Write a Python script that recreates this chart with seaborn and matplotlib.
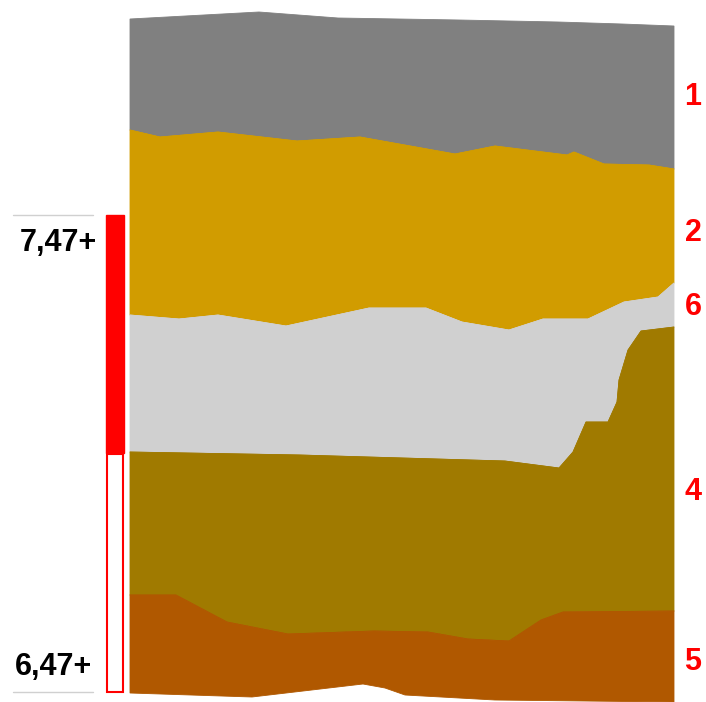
import numpy as np
import pandas as pd
import matplotlib
matplotlib.use("Agg")
import matplotlib.pyplot as plt
import seaborn as sns

sns.set_style("white")
plt.rcParams['font.family'] = ['Liberation Sans', 'DejaVu Sans']

# Layer boundaries (position along chart, vertical position; y grows downward)
top_x = [130, 259, 338, 459, 558, 622, 674]
top_y = [19, 12, 18, 20, 22, 24, 26]

b1_x = [130, 160, 218, 297, 360, 455, 495, 567, 574, 604, 649, 674]
b1_y = [130, 137, 132, 141, 137, 154, 146, 155, 152, 164, 165, 169]

b2_x = [130, 179, 218, 286, 369, 426, 462, 509, 543, 588, 624, 658, 674]
b2_y = [315, 319, 315, 326, 308, 308, 322, 330, 319, 319, 302, 297, 283]

b3_x = [130, 300, 505, 559, 573, 586, 608, 617, 619, 628, 641, 674]
b3_y = [452, 455, 461, 468, 452, 422, 422, 402, 380, 350, 331, 327]

b4_x = [130, 176, 227, 288, 374, 428, 468, 509, 541, 563, 674]
b4_y = [595, 595, 622, 634, 631, 632, 639, 641, 620, 612, 611]

bot_x = [130, 252, 363, 385, 405, 495, 674]
bot_y = [693, 697, 684, 688, 695, 700, 702]

layer_labels = ["1", "2", "6", "4", "5"]
layer_colors = ["#808080", "#D19C00", "#D0D0D0", "#A07A00", "#B05800"]
label_y = [97, 233, 307, 492, 662]

scale_labels = ["7,47+", "6,47+"]

boundaries = [(top_x, top_y), (b1_x, b1_y), (b2_x, b2_y), (b3_x, b3_y), (b4_x, b4_y), (bot_x, bot_y)]

fig = plt.figure(figsize=(7.06, 7.02), dpi=100)
ax = fig.add_axes([0, 0, 1, 1])
ax.set_xlim(0, 706)
ax.set_ylim(702, 0)
ax.axis("off")

for i in range(5):
    ux, uy = boundaries[i]
    lx, ly = boundaries[i + 1]
    px = list(ux) + list(lx)[::-1]
    py = list(uy) + list(ly)[::-1]
    ax.fill(px, py, color=layer_colors[i], linewidth=0.6, edgecolor=layer_colors[i], zorder=2 + i * 0.01)

# thin edges via seaborn
for i in range(1, 5):
    bx, by = boundaries[i]
    df = pd.DataFrame({"x": bx, "y": by})
    sns.lineplot(data=df, x="x", y="y", ax=ax, color=layer_colors[i], linewidth=0.5,
                 sort=False, estimator=None, zorder=3)
ax.set_xlim(0, 706)
ax.set_ylim(702, 0)
ax.axis("off")

for lab, yy in zip(layer_labels, label_y):
    ax.text(693, yy, lab, color="#FF0000", fontsize=22, fontweight="bold",
            ha="center", va="center")

# left scale indicator
ax.add_patch(plt.Rectangle((106, 215), 18, 238, facecolor="#FF0000", edgecolor="#FF0000", linewidth=1))
ax.add_patch(plt.Rectangle((107, 454), 16, 238, facecolor="white", edgecolor="#FF0000", linewidth=1.5))
ax.plot([13, 93], [215, 215], color="#D0D0D0", linewidth=1)
ax.plot([13, 93], [692, 692], color="#D0D0D0", linewidth=1)
ax.text(97, 243, scale_labels[0], color="black", fontsize=22, fontweight="bold", ha="right", va="center")
ax.text(92, 667, scale_labels[1], color="black", fontsize=22, fontweight="bold", ha="right", va="center")

fig.savefig("out.png", dpi=100)
